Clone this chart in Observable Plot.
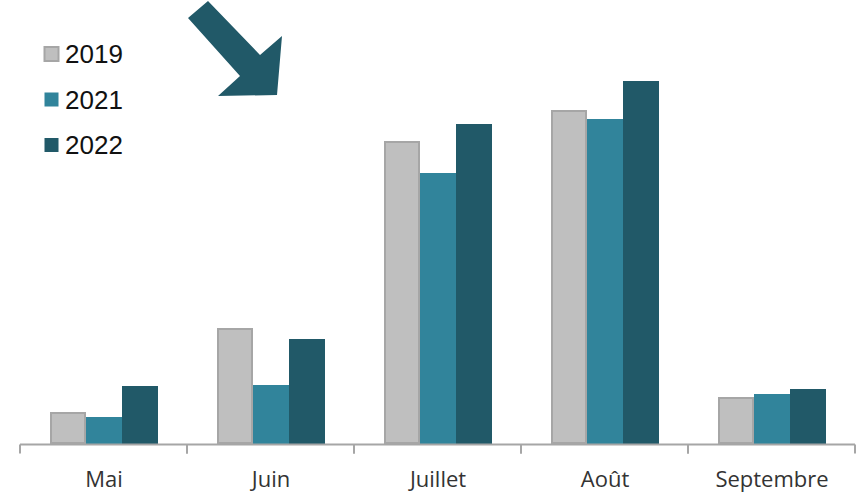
<!DOCTYPE html>
<html>
<head>
<meta charset="utf-8">
<script src="https://cdn.jsdelivr.net/npm/d3@7"></script>
<script src="https://cdn.jsdelivr.net/npm/@observablehq/plot@0.6"></script>
<style>
  html, body { margin: 0; padding: 0; background: #fff; }
  #wrap { position: relative; width: 865px; height: 498px; overflow: hidden; }
  #overlay { position: absolute; left: 0; top: 0; pointer-events: none; }
</style>
</head>
<body>
<div id="wrap"></div>
<script>
const months = ["Mai", "Juin", "Juillet", "Août", "Septembre"];
const years = ["2019", "2021", "2022"];
const values2019 = [32, 116, 303, 334, 47];
const values2021 = [27, 59, 271, 325, 50];
const values2022 = [58, 105, 320, 363, 55];
const colors = ["#bfbfbf", "#31849b", "#215968"];

const series = [values2019, values2021, values2022];
const data = [];
months.forEach((m, i) => {
  years.forEach((y, j) => data.push({month: m, year: y, value: series[j][i]}));
});

const chart = Plot.plot({
  width: 865,
  height: 498,
  marginTop: 0,
  marginBottom: 54,
  marginLeft: 19,
  marginRight: 10,
  style: {fontFamily: "'Open Sans', sans-serif", fontSize: "22px", color: "#333", background: "#fff"},
  facet: {data, x: "month"},
  fx: {domain: months, padding: 0, tickSize: 0, tickPadding: 27, label: null},
  x: {domain: years, axis: null, paddingInner: 0, paddingOuter: 0.766},
  y: {domain: [0, 444], axis: null},
  color: {domain: years, range: colors},
  marks: [
    Plot.barY(data, {x: "year", y: "value", fill: "year"}),
    Plot.barY(data, {filter: d => d.year === years[0], x: "year", y: "value", fill: "none", stroke: "#a6a6a6", strokeWidth: 2, inset: 1}),
    Plot.ruleY([0], {stroke: "#a6a6a6", strokeWidth: 2})
  ]
});

document.getElementById("wrap").appendChild(chart);

// tick marks at the group boundaries, derived from the axis rule of each facet
d3.select(chart).selectAll('g[aria-label="rule"] line').each(function() {
  const line = d3.select(this);
  const parent = d3.select(this.parentNode);
  const y1 = +line.attr("y1");
  [line.attr("x1"), line.attr("x2")].forEach(x => {
    parent.append("line")
      .attr("x1", x).attr("x2", x)
      .attr("y1", y1).attr("y2", y1 + 9)
      .attr("stroke", "#a6a6a6").attr("stroke-width", 2);
  });
});

// legend and decorative arrow
const overlay = d3.select("#wrap").append("svg")
  .attr("id", "overlay").attr("width", 865).attr("height", 498);

overlay.append("polygon")
  .attr("points", "208,1 260,55 282,36 277,95 218,96 240,76 188,18")
  .attr("fill", "#215968");

const legend = overlay.append("g").attr("transform", "translate(44,54)");
years.forEach((y, i) => {
  const g = legend.append("g").attr("transform", `translate(0,${i * 45.5})`);
  g.append("rect")
    .attr("x", 0.5).attr("y", -7).attr("width", 14).attr("height", 14)
    .attr("fill", colors[i])
    .attr("stroke", i === 0 ? "#a6a6a6" : "none").attr("stroke-width", 2);
  g.append("text")
    .attr("x", 21).attr("y", 0).attr("dy", "0.35em")
    .attr("font-family", "'Liberation Sans', Arial, sans-serif")
    .attr("font-size", 26).attr("fill", "#111")
    .text(y);
});
</script>
</body>
</html>
